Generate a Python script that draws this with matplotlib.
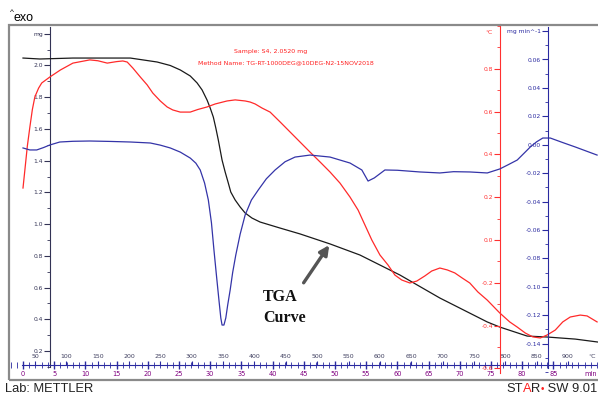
import numpy as np
import matplotlib
matplotlib.use('Agg')
import matplotlib.pyplot as plt
from matplotlib.patches import Rectangle
from matplotlib.ticker import MultipleLocator, FixedLocator

# TGA curve (mg) vs time (min)
tga_t = [0, 2.7, 8.0, 17.2, 21.5, 23.6, 25.2, 26.8, 27.9, 28.7, 29.5, 30.0, 30.5, 30.9, 31.3,
         31.6, 31.9, 32.4, 32.9, 33.3, 34.0, 34.8, 35.6, 36.7, 38.0, 39.6, 41.2, 44.4, 49.2,
         54.0, 60.4, 66.8, 74.4, 76.4, 80.8, 84.0, 88.5, 92.2]
tga_mg = [2.047, 2.041, 2.047, 2.047, 2.022, 2.000, 1.972, 1.934, 1.890, 1.846, 1.782, 1.732,
          1.675, 1.606, 1.530, 1.467, 1.404, 1.328, 1.259, 1.202, 1.152, 1.108, 1.070, 1.038,
          1.013, 0.994, 0.975, 0.938, 0.875, 0.805, 0.679, 0.534, 0.383, 0.351, 0.294, 0.288,
          0.275, 0.256]

# SDTA curve (°C)
sdta_t = [0, 0.3, 0.7, 1.1, 1.5, 1.9, 2.5, 3.0, 4.3, 6.0, 8.0, 10.7, 12.0, 13.5, 15.0, 16.0,
          16.7, 17.6, 18.8, 19.9, 20.8, 22.0, 23.1, 24.0, 25.2, 26.8, 28.0, 29.5, 30.8, 32.7,
          34.0, 35.6, 36.4, 37.2, 38.3, 39.6, 41.2, 42.8, 44.4, 46.0, 47.6, 49.2, 50.8, 52.4,
          53.7, 54.8, 55.9, 57.2, 58.5, 59.6, 60.7, 62.0, 63.1, 64.4, 65.5, 66.8, 68.0, 69.2,
          70.4, 71.6, 72.9, 74.4, 76.4, 78.0, 79.2, 80.5, 81.7, 82.9, 84.0, 85.3, 86.5, 87.7,
          89.3, 90.4, 92.0]
sdta_c = [0.243, 0.327, 0.440, 0.528, 0.610, 0.669, 0.710, 0.734, 0.762, 0.795, 0.827, 0.842,
          0.838, 0.827, 0.834, 0.837, 0.832, 0.804, 0.762, 0.725, 0.687, 0.650, 0.622, 0.608,
          0.598, 0.598, 0.610, 0.622, 0.636, 0.650, 0.655, 0.650, 0.645, 0.636, 0.617, 0.598,
          0.552, 0.505, 0.458, 0.411, 0.365, 0.318, 0.266, 0.201, 0.140, 0.070, 0.000, -0.070,
          -0.117, -0.164, -0.187, -0.201, -0.192, -0.168, -0.145, -0.131, -0.140, -0.154,
          -0.178, -0.201, -0.243, -0.281, -0.341, -0.383, -0.407, -0.435, -0.453, -0.458,
          -0.444, -0.421, -0.383, -0.360, -0.351, -0.355, -0.383]

# DTG curve (mg/min)
dtg_t = [0, 1.1, 2.2, 3.3, 4.3, 5.9, 8.0, 10.7, 14.0, 17.2, 20.4, 22.0, 23.6, 25.2, 26.8,
         27.7, 28.4, 29.1, 29.7, 30.2, 30.6, 31.0, 31.4, 31.7, 31.9, 32.2, 32.5, 32.8, 33.2,
         33.6, 34.1, 34.8, 35.6, 36.6, 37.7, 39.0, 40.4, 42.0, 43.6, 46.0, 49.2, 52.4, 54.3,
         55.3, 56.3, 58.0, 60.0, 63.6, 66.8, 69.0, 71.6, 74.4, 76.4, 77.8, 79.2, 80.3, 81.3,
         82.3, 83.3, 84.5, 86.5, 88.5, 92.0]
dtg_v = [-0.0023, -0.0037, -0.0037, -0.0020, -0.0002, 0.0019, 0.0024, 0.0026, 0.0023, 0.0019,
         0.0012, -0.0003, -0.0023, -0.0052, -0.0094, -0.0130, -0.0178, -0.0270, -0.0389,
         -0.0550, -0.0741, -0.0920, -0.1094, -0.1220, -0.1270, -0.1270, -0.1220, -0.1130,
         -0.1023, -0.0900, -0.0777, -0.0630, -0.0495, -0.0390, -0.0319, -0.0240, -0.0178,
         -0.0120, -0.0087, -0.0073, -0.0087, -0.0129, -0.0178, -0.0256, -0.0234, -0.0178,
         -0.0180, -0.0192, -0.0199, -0.0190, -0.0192, -0.0199, -0.0171, -0.0140, -0.0108,
         -0.0060, -0.0016, 0.0020, 0.0047, 0.0047, 0.0015, -0.0016, -0.0073]

mg_ticks = [0.2, 0.4, 0.6, 0.8, 1.0, 1.2, 1.4, 1.6, 1.8, 2.0, 2.2]
c_ticks = [-0.6, -0.4, -0.2, 0.0, 0.2, 0.4, 0.6, 0.8]
dtg_ticks = [-0.14, -0.12, -0.10, -0.08, -0.06, -0.04, -0.02, 0.00, 0.02, 0.04, 0.06, 0.08]
time_ticks = list(range(0, 90, 5))
temp_ticks = list(range(50, 950, 50))

W_PX, H_PX = 598, 397


def px(x, y):
    return x / W_PX, 1 - y / H_PX


fig = plt.figure(figsize=(W_PX / 100, H_PX / 100), dpi=100)
fig.patch.set_facecolor('white')

# frame of the plot area in pixels
fx0, fy0, fx1, fy1 = 9, 25, 598, 380
ax = fig.add_axes([fx0 / W_PX, 1 - fy1 / H_PX, (fx1 - fx0) / W_PX, (fy1 - fy0) / H_PX])
fig.add_artist(Rectangle(px(fx0, fy1), (640 - fx0) / W_PX, (fy1 - fy0) / H_PX,
                         transform=fig.transFigure, fill=False, ec='#8a8a8a', lw=1.6))


def xfrac(x):
    return (x - fx0) / (fx1 - fx0)


# time axis: 6.24 px per minute, t=0 at x=23
ax.set_xlim((fx0 - 23) / 6.24, (fx1 - 23) / 6.24)
ax.set_ylim(2.0 - (fy1 - 65.5) / 158.6, 2.0 + (65.5 - fy0) / 158.6)
for s in ['top', 'right']:
    ax.spines[s].set_visible(False)

# mg axis
ax.spines['left'].set_position(('axes', xfrac(50)))
ax.spines['left'].set_bounds(0.1, 2.24)
ax.spines['left'].set_color('#333355')
ax.spines['left'].set_linewidth(0.8)
ax.yaxis.set_major_locator(FixedLocator(mg_ticks))
ax.yaxis.set_minor_locator(MultipleLocator(0.1))
ax.set_yticklabels(['%.1f' % v if v < 2.1 else 'mg' for v in mg_ticks])
ax.tick_params(axis='y', which='major', length=4, width=0.8, labelsize=4.3,
               colors='#333355', pad=1)
ax.tick_params(axis='y', which='minor', length=2.5, width=0.6, colors='#333355')

# time axis line near the bottom
bot = (fy1 - 365) / (fy1 - fy0)
ax.spines['bottom'].set_position(('axes', bot))
ax.spines['bottom'].set_bounds(-0.2, 91.8)
ax.spines['bottom'].set_color('#2a2aa0')
ax.xaxis.set_major_locator(FixedLocator(time_ticks))
ax.xaxis.set_minor_locator(MultipleLocator(1))
ax.tick_params(axis='x', which='major', direction='inout', length=6, width=1.0,
               colors='#2a2aa0', labelcolor='#800080', labelsize=4.8, pad=1)
ax.tick_params(axis='x', which='minor', direction='inout', length=4, width=0.6,
               colors='#2a2aa0')
fig.text(*px(597, 374), 'min', color='#800080', fontsize=4.8, ha='right', va='center')

# temperature labels above the time axis
axT = ax.twiny()
t0, t1 = ax.get_xlim()
axT.set_xlim(30.86 + 9.952 * t0, 30.86 + 9.952 * t1)
for s in axT.spines.values():
    s.set_visible(False)
axT.xaxis.set_ticks_position('top')
axT.spines['top'].set_position(('axes', bot))
axT.xaxis.set_major_locator(FixedLocator(temp_ticks))
axT.tick_params(axis='x', which='major', direction='out', length=3, width=0.8,
                colors='#2a2aa0', labelcolor='#404060', labelsize=4.5, pad=1.5)
fig.text(*px(596, 357), '°C', color='#404060', fontsize=4.5, ha='right', va='center')

# SDTA axis (°C)
axr = ax.twinx()
axr.set_ylim(-(fy1 - 240) / 213.9, (240 - fy0) / 213.9)
for s in axr.spines.values():
    s.set_visible(False)
axr.spines['left'].set_visible(True)
axr.spines['left'].set_position(('axes', xfrac(500)))
axr.spines['left'].set_bounds(-0.62, 1.01)
axr.spines['left'].set_color('#ff3030')
axr.yaxis.set_ticks_position('left')
axr.yaxis.set_label_position('left')
axr.yaxis.set_major_locator(FixedLocator(c_ticks))
axr.yaxis.set_minor_locator(MultipleLocator(0.1))
axr.set_yticklabels(['%.1f' % v for v in c_ticks])
axr.tick_params(axis='y', which='major', length=4, width=0.8, labelsize=4.3,
                colors='#ff3030', pad=1)
axr.tick_params(axis='y', which='minor', length=2.5, width=0.6, colors='#ff3030')
fig.text(*px(492, 33), '°C', color='#ff3030', fontsize=4.3, ha='right', va='center')

# DTG axis (mg/min)
axb = ax.twinx()
axb.set_ylim(-(fy1 - 144.7) / 1420, (144.7 - fy0) / 1420)
for s in axb.spines.values():
    s.set_visible(False)
axb.spines['left'].set_visible(True)
axb.spines['left'].set_position(('axes', xfrac(548)))
axb.spines['left'].set_bounds(-0.157, 0.083)
axb.spines['left'].set_color('#2a2aa0')
axb.yaxis.set_ticks_position('left')
axb.yaxis.set_label_position('left')
axb.yaxis.set_major_locator(FixedLocator(dtg_ticks))
axb.yaxis.set_minor_locator(MultipleLocator(0.01))
axb.set_yticklabels(['%.2f' % v if v < 0.07 else 'mg min^-1' for v in dtg_ticks])
axb.tick_params(axis='y', which='major', length=4, width=0.8, labelsize=4.3,
                colors='#2a2aa0', pad=1)
axb.tick_params(axis='y', which='minor', length=2.5, width=0.6, colors='#2a2aa0')

# curves
ax.plot(tga_t, tga_mg, color='#1a1a1a', lw=0.9, zorder=3)
axr.plot(sdta_t, sdta_c, color='#ff2a2a', lw=0.9)
axb.plot(dtg_t, dtg_v, color='#3434a8', lw=0.9)

# header texts
fig.text(*px(271, 51), 'Sample: S4, 2.0520 mg', color='#ff2020', fontsize=4.5,
         ha='center', va='center')
fig.text(*px(286, 63), 'Method Name: TG-RT-1000DEG@10DEG-N2-15NOV2018', color='#ff2020',
         fontsize=4.5, ha='center', va='center')

# arrow and label
ax.annotate('', xy=(tga_t[28], tga_mg[28]), xytext=(-19, -28), textcoords='offset points',
            arrowprops=dict(arrowstyle='-|>', color='#555555', lw=2.4, mutation_scale=14,
                            shrinkA=0, shrinkB=1), zorder=5)
fig.text(*px(263, 297), 'TGA', fontsize=11.5, fontweight='bold', family='Liberation Serif',
         ha='left', va='center', color='#111111')
fig.text(*px(263, 318), 'Curve', fontsize=11.5, fontweight='bold', family='Liberation Serif',
         ha='left', va='center', color='#111111')

# corner texts
fig.text(*px(10, 12), '^', fontsize=6, ha='left', va='center', family='Liberation Sans')
fig.text(*px(14, 18), 'exo', fontsize=9, ha='left', va='center', family='Liberation Sans')
fig.text(*px(5, 389), 'Lab: METTLER', fontsize=9.3, ha='left', va='center',
         family='Liberation Sans', color='#222222')

# "STAR• SW 9.01" built from right to left
fig.canvas.draw()
rend = fig.canvas.get_renderer()
pieces = [('ST', '#222222', 9.3), ('A', '#ff2020', 9.3), ('R', '#222222', 9.3),
          ('\u2022', '#ff2020', 7), (' SW 9.01', '#222222', 9.3)]
x = 597
for txt, col, fs in reversed(pieces):
    t = fig.text(*px(x, 389), txt, fontsize=fs, color=col, ha='right', va='center',
                 family='Liberation Sans')
    w = t.get_window_extent(rend).width
    x -= w

fig.savefig('out.png', dpi=100)
